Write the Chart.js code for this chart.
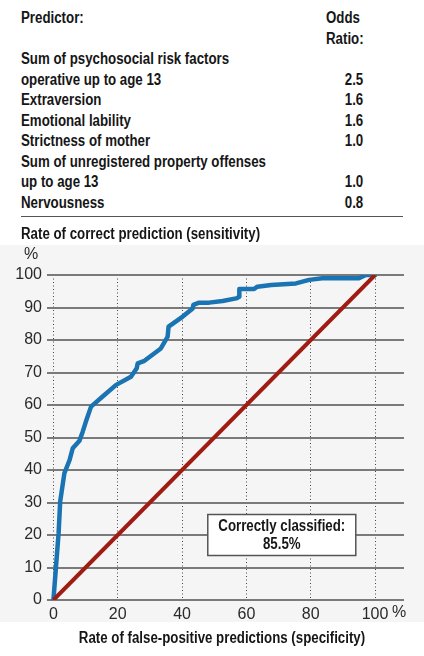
<!DOCTYPE html>
<html>
<head>
<meta charset="utf-8">
<script src="https://cdn.jsdelivr.net/npm/chart.js@4.4.1/dist/chart.umd.min.js"></script>
<style>
  html, body { margin: 0; padding: 0; background: #fff; }
  body { width: 424px; height: 656px; position: relative; overflow: hidden;
         font-family: "Liberation Sans", Arial, sans-serif; color: #161616; }
  .ln { position: absolute; font-size: 16px; font-weight: bold; line-height: 20px; white-space: nowrap;
        transform: scaleX(0.83); transform-origin: left center; }
  .ln.r { transform-origin: right center; }
  .sep { position: absolute; left: 21px; top: 216px; width: 382px; height: 0; border-top: 1.5px solid #555; }
  #wrap { position: absolute; left: 0; top: 222px; width: 424px; height: 434px; }
</style>
</head>
<body>
<div id="table"></div>
<div class="sep"></div>
<div id="wrap"><canvas id="roc" width="424" height="434"></canvas></div>
<script>
// table data
const predictorRows = [
    ["Sum of psychosocial risk factors", "operative up to age 13"],
    ["Extraversion"],
    ["Emotional lability"],
    ["Strictness of mother"],
    ["Sum of unregistered property offenses", "up to age 13"],
    ["Nervousness"]
];
const oddsRatios = ["2.5", "1.6", "1.6", "1.0", "1.0", "0.8"];

// chart data (%)
const falsePos = [0, 0.8, 1.6, 2.1, 3.4, 5, 6, 8.1, 9.1, 10.1, 11.7, 15.3, 19.5, 24.1, 25.9, 26.2, 28.3, 33.4, 35.5, 35.8, 40.2, 43.3, 43.5, 45.3, 48.4, 52.6, 56.8, 57.8, 57.8, 62.4, 63.4, 67.7, 75.4, 79.5, 83.6, 95, 97.1, 100];
const correctPos = [0, 10.3, 20.5, 30.3, 39, 43, 46.7, 49, 51.8, 54.9, 59.5, 62.6, 66.2, 68.7, 71.3, 72.8, 73.6, 77.4, 81, 84.1, 87.2, 89.7, 90.8, 91.5, 91.5, 92, 92.8, 93.3, 95.7, 95.7, 96.4, 96.9, 97.4, 98.5, 99, 99, 100, 100];
const chanceX = [0, 100];
const chanceY = [0, 100];
const xTicks = [0, 20, 40, 60, 80, 100];
const yTicks = [0, 10, 20, 30, 40, 50, 60, 70, 80, 90, 100];
const boxText = ["Correctly classified:", "85.5%"];
const boxAt = { x: 71, y: 20 };

const FONT = '"Liberation Sans", Arial, sans-serif';
const NARROW = 0.83;

// build the predictor table
const table = document.getElementById("table");
const lineY = i => 8 + 20.5 * i;
const addText = (txt, x, i, right) => {
    const d = document.createElement("div");
    d.className = right ? "ln r" : "ln";
    d.textContent = txt;
    d.style.top = lineY(i) + "px";
    if (right) d.style.right = (424 - x) + "px"; else d.style.left = x + "px";
    table.appendChild(d);
};
addText("Predictor:", 21, 0);
addText("Odds", 326, 0);
addText("Ratio:", 326, 1);
let row = 2;
predictorRows.forEach((lines, k) => {
    lines.forEach(t => { addText(t, 21, row); row++; });
    addText(oddsRatios[k], 363, row - 1, true);
});

const toPoints = (xs, ys) => xs.map((x, i) => ({ x: x, y: ys[i] }));

// condensed bold text on the canvas
const narrowText = (c, txt, x, y, align) => {
    c.save();
    c.translate(x, y);
    c.scale(NARROW, 1);
    c.textAlign = align;
    c.fillText(txt, 0, 0);
    c.restore();
};

// background panel, titles, % marks and the text box
const extras = {
    id: "extras",
    beforeDraw(chart) {
        const c = chart.ctx;
        c.save();
        c.fillStyle = "#f5f5f5";
        c.fillRect(0, 23, 424, 377);
        c.restore();
    },
    afterDraw(chart) {
        const c = chart.ctx;
        const xs = chart.scales.x, ys = chart.scales.y;
        c.save();
        c.fillStyle = "#161616";
        c.font = "bold 16px " + FONT;
        c.textBaseline = "middle";
        narrowText(c, "Rate of correct prediction (sensitivity)", 21, 13, "left");
        narrowText(c, "Rate of false-positive predictions (specificity)", 222, 417, "center");

        c.font = "16px " + FONT;
        c.fillStyle = "#2a2a2a";
        c.textAlign = "left";
        c.fillText("%", 24, 33);
        const px100 = xs.getPixelForValue(100);
        c.fillText("%", px100 + 17, 391);

        // annotation box
        const bx = xs.getPixelForValue(boxAt.x), by = ys.getPixelForValue(boxAt.y);
        const w = 148, h = 41;
        c.fillStyle = "#ffffff";
        c.fillRect(bx - w / 2, by - h / 2, w, h);
        c.strokeStyle = "#555";
        c.lineWidth = 1.5;
        c.strokeRect(bx - w / 2, by - h / 2, w, h);
        c.fillStyle = "#161616";
        c.font = "bold 16px " + FONT;
        narrowText(c, boxText[0], bx, by - 8, "center");
        narrowText(c, boxText[1], bx, by + 10, "center");
        c.restore();
    }
};

new Chart(document.getElementById("roc").getContext("2d"), {
    type: "scatter",
    data: {
        datasets: [
            {
                label: "Chance",
                data: toPoints(chanceX, chanceY),
                showLine: true,
                borderColor: "#a01b12",
                borderWidth: 4,
                pointRadius: 0
            },
            {
                label: "ROC",
                data: toPoints(falsePos, correctPos),
                showLine: true,
                borderColor: "#1a73b3",
                borderWidth: 4.5,
                borderJoinStyle: "round",
                borderCapStyle: "round",
                tension: 0,
                pointRadius: 0
            }
        ]
    },
    options: {
        responsive: false,
        animation: false,
        devicePixelRatio: 1,
        layout: { padding: { top: 53, right: 20, left: 0, bottom: 0 } },
        plugins: { legend: { display: false }, tooltip: { enabled: false } },
        scales: {
            x: {
                type: "linear",
                min: -2,
                max: 109,
                afterFit: s => { s.height = 56; },
                afterBuildTicks: s => { s.ticks = xTicks.map(v => ({ value: v })); },
                border: { display: false, dash: [1, 2.5] },
                grid: { color: "#444", lineWidth: 1, drawTicks: false },
                ticks: { padding: 5, color: "#2a2a2a", font: { family: FONT, size: 16 }, maxRotation: 0 }
            },
            y: {
                type: "linear",
                min: 0,
                max: 100,
                afterFit: s => { s.width = 47; },
                afterBuildTicks: s => { s.ticks = yTicks.map(v => ({ value: v })); },
                border: { display: false },
                grid: { color: "#7a7a7a", lineWidth: 2, drawTicks: false },
                ticks: { padding: 5, color: "#2a2a2a", font: { family: FONT, size: 16 } }
            }
        }
    },
    plugins: [extras]
});
</script>
</body>
</html>
